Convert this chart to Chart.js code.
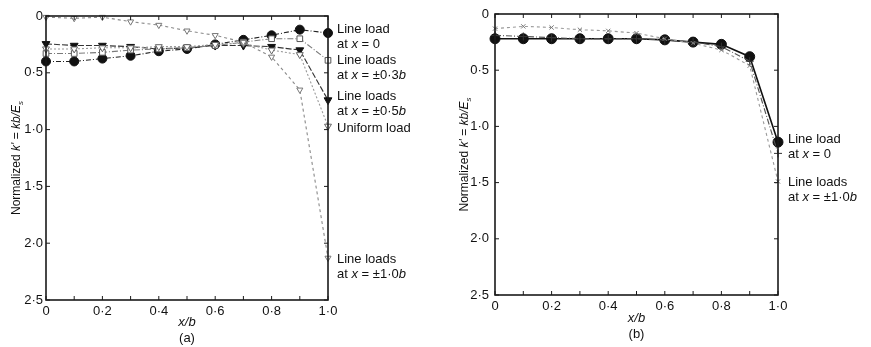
<!DOCTYPE html>
<html>
<head>
<meta charset="utf-8">
<script src="https://cdn.jsdelivr.net/npm/chart.js@4/dist/chart.umd.min.js"></script>
<style>
  html, body { margin: 0; padding: 0; background: #fff; }
  .wrap { display: flex; width: 871px; height: 347px; }
  .panel { position: relative; height: 347px; }
</style>
</head>
<body>
<div class="wrap">
  <div class="panel" style="width:440px"><canvas id="chartA"></canvas></div>
  <div class="panel" style="width:431px"><canvas id="chartB"></canvas></div>
</div>
<script>
// x/b positions (both panels)
const xs = [0, 0.1, 0.2, 0.3, 0.4, 0.5, 0.6, 0.7, 0.8, 0.9, 1.0];

// panel (a)
const aLoad0 = [0.40, 0.40, 0.375, 0.35, 0.31, 0.29, 0.25, 0.21, 0.17, 0.12, 0.15];
const aLoad03 = [0.33, 0.33, 0.32, 0.30, 0.29, 0.28, 0.26, 0.23, 0.20, 0.20, 0.39];
const aLoad05 = [0.245, 0.26, 0.26, 0.27, 0.29, 0.28, 0.26, 0.26, 0.27, 0.30, 0.74];
const aUniform = [0.29, 0.29, 0.28, 0.28, 0.27, 0.27, 0.25, 0.24, 0.30, 0.34, 0.97];
const aLoad10 = [0.01, 0.02, 0.01, 0.05, 0.08, 0.13, 0.17, 0.23, 0.36, 0.65, 2.13];

// panel (b)
const bLoad0 = [0.22, 0.22, 0.22, 0.22, 0.22, 0.22, 0.23, 0.25, 0.27, 0.38, 1.14];
const bMid = [0.19, 0.20, 0.21, 0.22, 0.22, 0.22, 0.23, 0.25, 0.29, 0.42, 1.24];
const bLoad10 = [0.13, 0.11, 0.12, 0.14, 0.15, 0.17, 0.22, 0.26, 0.32, 0.46, 1.49];

const yTicks = [0, 0.5, 1.0, 1.5, 2.0, 2.5];

const FONT = "'Liberation Sans', Arial, sans-serif";
const fmt = (v) => (v === 0 ? "0" : v.toFixed(1).replace(".", "·"));
const pts = (vals) => xs.map((x, i) => ({ x, y: vals[i] }));

// "_" toggles italic, "~" toggles subscript
function parseRich(str) {
  const segs = [];
  let it = false, sub = false, buf = "";
  for (const ch of str) {
    if (ch === "_" || ch === "~") {
      if (buf) segs.push({ t: buf, it, sub });
      buf = "";
      if (ch === "_") it = !it; else sub = !sub;
    } else buf += ch;
  }
  if (buf) segs.push({ t: buf, it, sub });
  return segs;
}

function drawRich(ctx, str, x, y, size, align) {
  const segs = parseRich(str);
  const fontOf = (s) =>
    (s.it ? "italic " : "") + (s.sub ? Math.round(size * 0.7) : size) + "px " + FONT;
  let total = 0;
  segs.forEach((s) => { ctx.font = fontOf(s); total += ctx.measureText(s.t).width; });
  let cx = align === "center" ? x - total / 2 : x;
  ctx.textBaseline = "middle";
  ctx.textAlign = "left";
  segs.forEach((s) => {
    ctx.font = fontOf(s);
    ctx.fillText(s.t, cx, s.sub ? y + size * 0.3 : y);
    cx += ctx.measureText(s.t).width;
  });
}

const extras = {
  id: "extras",
  afterDraw(chart, args, opts) {
    const { ctx, chartArea: a, scales: { x, y } } = chart;
    ctx.save();
    ctx.strokeStyle = "#1a1a1a";
    ctx.lineWidth = 1.6;
    ctx.strokeRect(a.left, a.top, a.width, a.height);

    // inward tick marks on all four sides
    ctx.lineWidth = 1;
    ctx.beginPath();
    x.ticks.forEach((t) => {
      const px = x.getPixelForValue(t.value);
      ctx.moveTo(px, a.bottom); ctx.lineTo(px, a.bottom - 4);
      ctx.moveTo(px, a.top); ctx.lineTo(px, a.top + 4);
    });
    y.ticks.forEach((t) => {
      const py = y.getPixelForValue(t.value);
      ctx.moveTo(a.left, py); ctx.lineTo(a.left + 4, py);
      ctx.moveTo(a.right, py); ctx.lineTo(a.right - 4, py);
    });
    ctx.stroke();

    ctx.fillStyle = "#111";
    opts.labels.forEach((l) => {
      const py = y.getPixelForValue(l.y);
      l.lines.forEach((s, k) => drawRich(ctx, s, a.right + opts.labelGap, py + k * 15, 13));
    });

    const cx = (a.left + a.right) / 2;
    drawRich(ctx, "_x/b_", cx, a.bottom + opts.xTitleDy, 13, "center");
    drawRich(ctx, opts.tag, cx, a.bottom + opts.xTitleDy + 16, 13, "center");

    ctx.translate(opts.yTitleX, (a.top + a.bottom) / 2);
    ctx.rotate(-Math.PI / 2);
    drawRich(ctx, "Normalized _k'_ = _kb/E~s~_", 0, 0, 12, "center");
    ctx.restore();
  },
};

function series(vals, opt) {
  return Object.assign({
    data: pts(vals),
    borderWidth: 1.1,
    pointRadius: 4,
    pointBorderWidth: 1,
    showLine: true,
    clip: false,
  }, opt);
}

function makeChart(id, datasets, box, extraOpts) {
  return new Chart(document.getElementById(id), {
    type: "scatter",
    data: { datasets },
    options: {
      responsive: true,
      maintainAspectRatio: false,
      animation: false,
      layout: { padding: { top: box.top, right: box.right, left: 0, bottom: 0 } },
      plugins: { legend: { display: false }, tooltip: { enabled: false }, extras: extraOpts },
      scales: {
        x: {
          type: "linear", min: 0, max: 1,
          grid: { display: false, drawTicks: false, tickLength: 0 }, border: { display: false },
          afterFit: (s) => { s.height = box.bottom; },
          ticks: {
            stepSize: 0.1, padding: 4, color: "#111",
            font: { family: FONT, size: 13 },
            maxRotation: 0, autoSkip: false,
            callback: (v) => (Math.round(v * 10) % 2 === 0 ? fmt(v) : ""),
          },
        },
        y: {
          type: "linear", min: 0, max: 2.5, reverse: true,
          grid: { display: false, drawTicks: false, tickLength: 0 }, border: { display: false },
          afterFit: (s) => { s.width = box.left; },
          afterBuildTicks: (s) => { s.ticks = yTicks.map((v) => ({ value: v })); },
          ticks: {
            padding: box.tickPad, color: "#111",
            font: { family: FONT, size: 13 },
            callback: (v) => fmt(v),
          },
        },
      },
    },
    plugins: [extras],
  });
}

makeChart("chartA", [
  series(aLoad10, { borderColor: "#8a8a8a", borderDash: [3, 3], pointStyle: "triangle",
    rotation: 180, pointRadius: 3.5, backgroundColor: "#fff", pointBorderColor: "#777" }),
  series(aUniform, { borderColor: "#9a9a9a", borderDash: [2, 2], pointStyle: "triangle",
    rotation: 180, backgroundColor: "#fff", pointBorderColor: "#666" }),
  series(aLoad03, { borderColor: "#7a7a7a", borderDash: [6, 2, 1, 2], pointStyle: "rect",
    pointRadius: 4, backgroundColor: "#fff", pointBorderColor: "#555" }),
  series(aLoad05, { borderColor: "#333", borderDash: [6, 2], pointStyle: "triangle",
    rotation: 180, pointRadius: 4.5, backgroundColor: "#111", pointBorderColor: "#111" }),
  series(aLoad0, { borderColor: "#222", borderDash: [5, 2, 1, 2], pointStyle: "circle",
    pointRadius: 4.5, backgroundColor: "#111", pointBorderColor: "#111" }),
], { left: 46, right: 112, top: 16, bottom: 47, tickPad: 3 }, {
  labelGap: 9, xTitleDy: 22, yTitleX: 17, tag: "(a)",
  labels: [
    { y: 0.12, lines: ["Line load", "at _x_ = 0"] },
    { y: 0.39, lines: ["Line loads", "at _x_ = ±0·3_b_"] },
    { y: 0.71, lines: ["Line loads", "at _x_ = ±0·5_b_"] },
    { y: 0.99, lines: ["Uniform load"] },
    { y: 2.14, lines: ["Line loads", "at _x_ = ±1·0_b_"] },
  ],
});

makeChart("chartB", [
  series(bLoad10, { borderColor: "#9a9a9a", borderDash: [3, 3], pointStyle: "crossRot",
    pointRadius: 3, pointBorderColor: "#777" }),
  series(bMid, { borderColor: "#555", borderDash: [6, 2, 1, 2], pointStyle: "cross",
    pointRadius: 4, pointBorderColor: "#333" }),
  series(bLoad0, { borderColor: "#111", borderWidth: 1.6, pointStyle: "circle",
    pointRadius: 5, backgroundColor: "#111", pointBorderColor: "#111" }),
], { left: 55, right: 93, top: 14, bottom: 52, tickPad: 6 }, {
  labelGap: 10, xTitleDy: 23, yTitleX: 25, tag: "(b)",
  labels: [
    { y: 1.12, lines: ["Line load", "at _x_ = 0"] },
    { y: 1.50, lines: ["Line loads", "at _x_ = ±1·0_b_"] },
  ],
});
</script>
</body>
</html>
